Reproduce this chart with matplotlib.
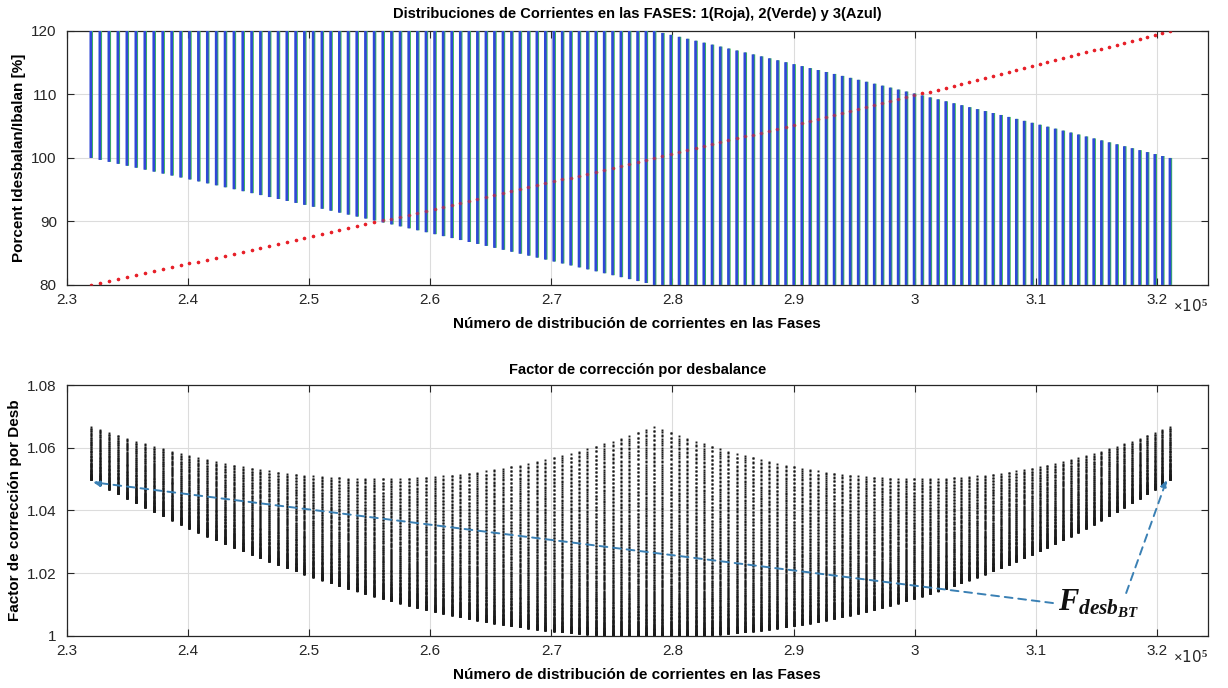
import numpy as np
import matplotlib.pyplot as plt

# one column per value of the phase 1 current
n_cols = 131
x_first = 2.32e5
col_gap = [745, 625]          # distance between columns at the start / end
red_pct = [80, 120]           # phase 1 (red) at first / last column
phase_lim = [80, 120]         # allowed range of every phase
total_pct = 300               # the three phases add up to 300 %
step_pct = 0.22               # step of phase 2 inside a column
k_desb = 12000                # F = 1 + sum(dev^2) / k_desb

xticks = [2.3e5, 2.4e5, 2.5e5, 2.6e5, 2.7e5, 2.8e5, 2.9e5, 3.0e5, 3.1e5, 3.2e5]
xticklabels = ['2.3', '2.4', '2.5', '2.6', '2.7', '2.8', '2.9', '3', '3.1', '3.2']
yticks_top = [80, 90, 100, 110, 120]
yticks_bot = [1.0, 1.02, 1.04, 1.06, 1.08]
yticklabels_bot = ['1', '1.02', '1.04', '1.06', '1.08']

plt.rcParams['font.family'] = ['Liberation Sans', 'DejaVu Sans']
plt.rcParams['mathtext.fontset'] = 'custom'
plt.rcParams['mathtext.it'] = 'Liberation Serif:italic:bold'
plt.rcParams['mathtext.rm'] = 'Liberation Serif:bold'

gaps = np.linspace(col_gap[0], col_gap[1], n_cols - 1)
xc = x_first + np.concatenate([[0], np.cumsum(gaps)])
r = np.linspace(red_pct[0], red_pct[1], n_cols)
lo = np.maximum(phase_lim[0], total_pct - r - phase_lim[1])
hi = np.minimum(phase_lim[1], total_pct - r - phase_lim[0])
bal = total_pct / 3

# correction factor for every combination
fx, fy = [], []
for xi, ri, a, b in zip(xc, r, lo, hi):
    g = np.arange(a, b + 1e-9, step_pct)
    bl = total_pct - ri - g
    f = 1 + ((ri - bal) ** 2 + (g - bal) ** 2 + (bl - bal) ** 2) / k_desb
    fx.extend([xi] * len(g))
    fy.extend(f)

fig = plt.figure(figsize=(12.28, 6.88), dpi=100)
ax1 = fig.add_axes([0.0542, 0.5858, 0.9296, 0.3692])
ax2 = fig.add_axes([0.0542, 0.0756, 0.9296, 0.3648])

xmax = 3.242e5
dx = 75

ax1.plot(xc, r, 'o', color='#f02020', ms=2.5, mew=0, zorder=2)
g_lines = ax1.vlines(xc + dx, lo, hi, color='#3cb85a', lw=1.9, zorder=3)
b_lines = ax1.vlines(xc, lo, hi, color='#3048d6', lw=1.9, zorder=4)
g_lines.set_snap(False)
b_lines.set_snap(False)
ax1.plot(xc, r, 'o', color='#e02030', ms=2.5, mew=0, alpha=0.6, zorder=5)
ax1.set_xlim(2.3e5, xmax)
ax1.set_ylim(80, 120)
ax1.set_yticks(yticks_top)
ax1.set_title('Distribuciones de Corrientes en las FASES: 1(Roja), 2(Verde) y 3(Azul)',
              fontsize=10.5, fontweight='bold', pad=9)
ax1.set_ylabel('Porcent Idesbalan/Ibalan [%]', fontsize=11, fontweight='bold')

ax2.plot(fx, fy, 's', color='#1a1a1a', ms=1.4, mew=0)
ax2.set_xlim(2.3e5, xmax)
ax2.set_ylim(1.0, 1.08)
ax2.set_yticks(yticks_bot)
ax2.set_yticklabels(yticklabels_bot)
ax2.set_title('Factor de corrección por desbalance', fontsize=10.5, fontweight='bold', pad=8)
ax2.set_ylabel('Factor de corrección por Desb', fontsize=11, fontweight='bold')

for ax in (ax1, ax2):
    ax.set_xticks(xticks)
    ax.set_xticklabels(xticklabels)
    ax.set_xlabel('Número de distribución de corrientes en las Fases', fontsize=11,
                  fontweight='bold', labelpad=7)
    ax.grid(True, color='#dcdcdc', lw=0.8)
    ax.set_axisbelow(True)
    ax.tick_params(direction='in', length=5, top=True, right=True, labelsize=11,
                   colors='#262626', width=0.8)
    ax.tick_params(axis='x', pad=6)
    ax.tick_params(axis='y', pad=7)
    for s in ax.spines.values():
        s.set_color('#262626')
        s.set_linewidth(0.9)
    ax.text(1.0, -0.05, r'$\times$10$^5$', transform=ax.transAxes, ha='right', va='top',
            fontsize=11, color='#262626', family='DejaVu Sans')

# annotation of the factor
arrow_col = '#3a80b4'
ax2.annotate('', xy=(2.3219e5, 1.049), xytext=(3.114e5, 1.0105),
             arrowprops=dict(arrowstyle='-|>', color=arrow_col, lw=1.4, ls=(0, (4, 3)),
                             mutation_scale=10, shrinkA=0, shrinkB=0))
ax2.annotate('', xy=(3.2078e5, 1.0497), xytext=(3.1744e5, 1.0137),
             arrowprops=dict(arrowstyle='-|>', color=arrow_col, lw=1.4, ls=(0, (4, 3)),
                             mutation_scale=10, shrinkA=0, shrinkB=0))
ax2.text(3.118e5, 1.0083, r'$F_{desb_{BT}}$', fontsize=22, ha='left', va='baseline',
         color='#111111')

fig.savefig('out.png', dpi=100)
